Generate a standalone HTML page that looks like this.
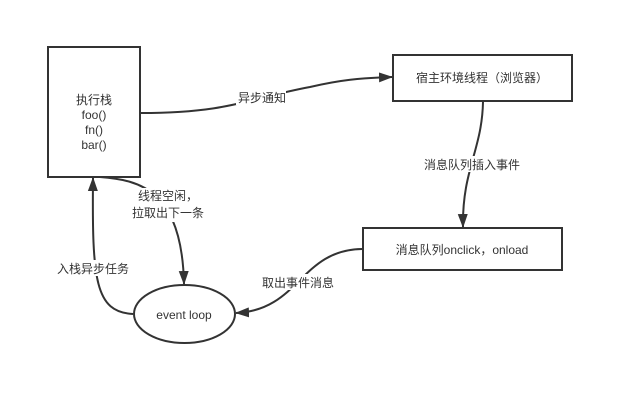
<!DOCTYPE html>
<html><head><meta charset="utf-8"><style>
body{margin:0;background:#fff;}
svg text{font-family:"Liberation Sans","Noto Sans CJK SC",sans-serif;font-size:12px;fill:#333;}
</style></head><body>
<svg width="633" height="406" viewBox="0 0 633 406" xmlns="http://www.w3.org/2000/svg">
<defs><marker id="a" markerWidth="10" markerHeight="10" refX="9" refY="5" orient="auto" markerUnits="userSpaceOnUse"><path d="M0,0 L10,5 L0,10 Z" fill="#333"/></marker>
<marker id="b" markerWidth="14" markerHeight="12" refX="13" refY="6" orient="auto" markerUnits="userSpaceOnUse"><path d="M0,1 L14,6 L0,11 Z" fill="#333"/></marker></defs>
<g fill="#fff" stroke="#333" stroke-width="2">
<rect x="48" y="47" width="92" height="130"/>
<rect x="393" y="55" width="179" height="46"/>
<rect x="363" y="228" width="199" height="42"/>
<ellipse cx="184.5" cy="314" rx="50.5" ry="29"/>
</g>
<g fill="none" stroke="#333" stroke-width="2">
<path d="M141,113 C230,113 250,98 310,87 C340,80 360,78 392,77" marker-end="url(#b)"/>
<path d="M483,102 C482,150 462,170 463,227" marker-end="url(#b)"/>
<path d="M362,249 C300,250 300,310 236,313" marker-end="url(#b)"/>
<path d="M100,177 C140,180 182,190 184,284" marker-end="url(#b)"/>
<path d="M133,314 C95,312 92,280 93,178" marker-end="url(#b)"/>
</g>
<g fill="#fff">
<rect x="236" y="89" width="50" height="16"/>
<rect x="418" y="156" width="108" height="16"/>
<rect x="128" y="188" width="84" height="34"/>
<rect x="52" y="260" width="80" height="16"/>
<rect x="258" y="274" width="80" height="16"/>
</g>
<g text-anchor="middle">
<text x="94" y="104">执行栈</text>
<text x="94" y="119">foo()</text>
<text x="94" y="134">fn()</text>
<text x="94" y="149">bar()</text>
<text x="482" y="82">宿主环境线程（浏览器）</text>
<text x="462" y="254">消息队列onclick，onload</text>
<text x="184" y="319">event loop</text>
<text x="262" y="102">异步通知</text>
<text x="472" y="169">消息队列插入事件</text>
<text x="168" y="200">线程空闲，</text>
<text x="168" y="217">拉取出下一条</text>
<text x="93" y="273">入栈异步任务</text>
<text x="298" y="287">取出事件消息</text>
</g>
</svg>
</body></html>
